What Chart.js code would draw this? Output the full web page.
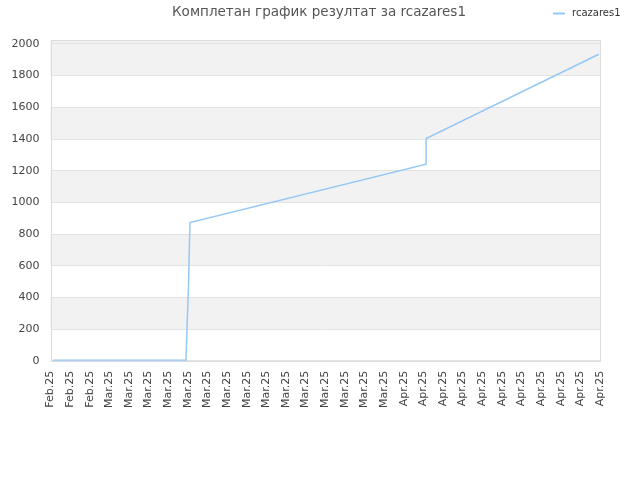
<!DOCTYPE html>
<html>
  <head>
    <meta charset="utf-8">
    <title>Комплетан график</title>
    <style>
      body { margin: 0; background: #fff; }
      #wrap { width: 640px; height: 480px; }
    </style>
  </head>
  <body>
    <div id="wrap"><canvas id="myChart"></canvas></div>

    <script src="https://cdn.jsdelivr.net/npm/chart.js@4/dist/chart.umd.min.js"></script>
    <script type="text/javascript">
      var chartTitle = 'Комплетан график резултат за rcazares1';

      // tick labels along the bottom
      var tickLabels = [
        'Feb.25', 'Feb.25', 'Feb.25',
        'Mar.25', 'Mar.25', 'Mar.25', 'Mar.25', 'Mar.25', 'Mar.25', 'Mar.25', 'Mar.25',
        'Mar.25', 'Mar.25', 'Mar.25', 'Mar.25', 'Mar.25', 'Mar.25', 'Mar.25',
        'Apr.25', 'Apr.25', 'Apr.25', 'Apr.25', 'Apr.25', 'Apr.25', 'Apr.25', 'Apr.25',
        'Apr.25', 'Apr.25', 'Apr.25'
      ];
      var yTicks = [0, 200, 400, 600, 800, 1000, 1200, 1400, 1600, 1800, 2000];

      // series (x = position along the tick labels)
      var seriesName = 'rcazares1';
      var pointX = [0.13, 6.9, 6.93, 6.98, 7.03, 7.08, 7.11, 19.14, 19.14, 27.94];
      var pointY = [3, 3, 105, 290, 460, 740, 873, 1241, 1403, 1935];

      var lineColor = 'rgb(150, 200, 245)';

      var points = pointX.map(function (x, i) { return { x: x, y: pointY[i] }; });

      var bandsPlugin = {
        id: 'bands',
        beforeDraw: function (chart) {
          // alternate grey bands behind the grid
          var ctx = chart.ctx, area = chart.chartArea, y = chart.scales.y;
          ctx.save();
          ctx.fillStyle = '#f2f2f2';
          for (var i = 1; i < yTicks.length; i += 2) {
            var top = i + 2 >= yTicks.length ? y.max : yTicks[i + 1];
            var y1 = y.getPixelForValue(yTicks[i]);
            var y2 = y.getPixelForValue(top);
            ctx.fillRect(area.left, y2, area.right - area.left, y1 - y2);
          }
          ctx.restore();
        },
        afterDatasetsDraw: function (chart) {
          var ctx = chart.ctx, a = chart.chartArea;
          ctx.save();
          ctx.strokeStyle = '#dcdcdc';
          ctx.lineWidth = 1;
          ctx.strokeRect(Math.round(a.left) + 0.5, Math.round(a.top) + 0.5,
                         Math.round(a.right - a.left) - 1, Math.round(a.bottom - a.top));
          ctx.restore();
        },
        afterDraw: function (chart) {
          var ctx = chart.ctx;
          ctx.save();
          // title, centred on the page
          ctx.fillStyle = '#555';
          ctx.font = '13.5px "DejaVu Sans"';
          ctx.textAlign = 'center';
          ctx.textBaseline = 'middle';
          ctx.fillText(chartTitle, 319, 12);
          // legend, same row as the title
          ctx.strokeStyle = lineColor;
          ctx.lineWidth = 2;
          ctx.beginPath();
          ctx.moveTo(553, 13.5);
          ctx.lineTo(565, 13.5);
          ctx.stroke();
          ctx.fillStyle = '#333';
          ctx.font = '10px "DejaVu Sans"';
          ctx.textAlign = 'left';
          ctx.fillText(chart.data.datasets[0].label, 572, 13);
          ctx.restore();
        }
      };

      var ctx = document.getElementById('myChart').getContext('2d');
      var chart = new Chart(ctx, {
        type: 'line',
        data: {
          datasets: [{
            label: seriesName,
            data: points,
            borderColor: lineColor,
            borderWidth: 1.5,
            pointRadius: 0,
            tension: 0,
            fill: false
          }]
        },
        options: {
          responsive: true,
          maintainAspectRatio: false,
          animation: false,
          layout: { padding: { left: 12, right: 40, top: 40, bottom: 70 } },
          plugins: {
            legend: { display: false },
            tooltip: { enabled: false },
            title: { display: false }
          },
          scales: {
            x: {
              type: 'linear',
              min: 0,
              max: tickLabels.length - 1,
              afterBuildTicks: function (scale) {
                scale.ticks = tickLabels.map(function (l, i) { return { value: i }; });
              },
              ticks: {
                autoSkip: false,
                maxRotation: 90,
                minRotation: 90,
                padding: 2,
                color: '#444',
                font: { family: 'DejaVu Sans', size: 11 },
                callback: function (v) { return tickLabels[v]; }
              },
              grid: { display: false },
              border: { display: false }
            },
            y: {
              min: 0,
              max: 2025,
              afterBuildTicks: function (scale) {
                scale.ticks = yTicks.map(function (v) { return { value: v }; });
              },
              afterFit: function (scale) { scale.width = 38.5; },
              ticks: {
                padding: 11,
                color: '#444',
                font: { family: 'DejaVu Sans', size: 11 },
                callback: function (v) { return String(v); }
              },
              grid: { color: '#e3e3e3', drawTicks: false },
              border: { display: false }
            }
          }
        },
        plugins: [bandsPlugin]
      });
    </script>
  </body>
</html>
